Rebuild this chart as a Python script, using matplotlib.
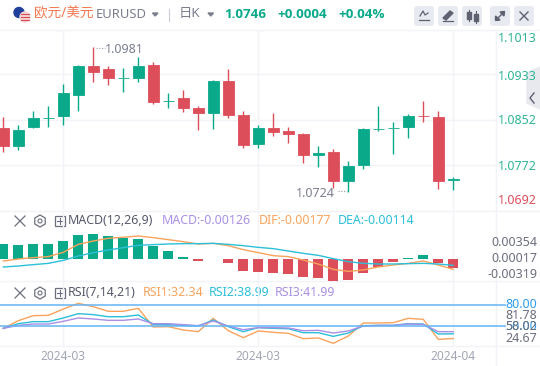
import matplotlib
matplotlib.use("Agg")
import numpy as np
import matplotlib.pyplot as plt
from matplotlib.patches import Circle, FancyBboxPatch, Polygon, Rectangle, RegularPolygon

plt.rcParams['font.family'] = ['Noto Sans', 'Noto Sans CJK SC', 'DejaVu Sans']

# Daily candles
opens = [1.08374, 1.08053, 1.08391, 1.0856, 1.08587, 1.08961, 1.09477, 1.09424, 1.09258, 1.09264, 1.09495,
         1.08863, 1.08908, 1.0873, 1.08641, 1.0921, 1.08605, 1.08089, 1.08374, 1.0832, 1.08267,
         1.07893, 1.07946, 1.0743, 1.07715, 1.08361, 1.08365, 1.08391, 1.0859, 1.08569, 1.0745]
closes = [1.08053, 1.08338, 1.08552, 1.0856, 1.08997, 1.09477, 1.0937, 1.09264, 1.09258, 1.09477, 1.08842,
          1.08863, 1.0873, 1.08641, 1.0921, 1.08605, 1.08071, 1.08374, 1.08302, 1.08267, 1.07893,
          1.07929, 1.0743, 1.07697, 1.08356, 1.08361, 1.08365, 1.08587, 1.08585, 1.0743, 1.0746]
highs = [1.08569, 1.08427, 1.08676, 1.08765, 1.09157, 1.09495, 1.0981, 1.09477, 1.09442, 1.09637, 1.09548,
         1.08997, 1.0905, 1.08765, 1.09228, 1.09424, 1.08676, 1.08427, 1.08641, 1.08391, 1.08285,
         1.08053, 1.08, 1.07786, 1.08374, 1.08765, 1.0848, 1.08614, 1.08854, 1.08676, 1.07501]
lows = [1.07946, 1.07982, 1.08374, 1.08391, 1.08427, 1.08676, 1.09192, 1.09139, 1.09014, 1.09192, 1.08801,
        1.0873, 1.08658, 1.08338, 1.08356, 1.08552, 1.08018, 1.08018, 1.08231, 1.08107, 1.07751,
        1.07679, 1.07306, 1.0724, 1.07644, 1.0832, 1.07911, 1.08196, 1.0848, 1.07288, 1.0727]

# MACD panel
macd_hist = [.0021, .00196, .0021, .0021, .00252, .00336, .0035, .00322, .00294, .0028, .00182,
             .00112, .00028, -.00028, .00006, -.00056, -.00168, -.00182, -.00196, -.0021, -.00252,
             -.00266, -.00308, -.00294, -.00196, -.00112, -.00042, .00012, .00056, -.00056, -.00126]
dif = [-.00028, 0, .00019, .00033, .00093, .00205, .00252, .0029, .00304, .00322, .00299,
       .00271, .00243, .0021, .00219, .00187, .00131, .00089, .00047, .00033, -.00014,
       -.0007, -.00145, -.00173, -.00154, -.00112, -.00084, -.00061, -.00028, -.00084, -.00145]
dea = [-.00112, -.00098, -.00079, -.00061, -.00019, .00042, .00089, .00126, .00159, .00191, .00201,
       .0021, .00215, .00215, .00219, .00205, .00187, .00163, .00145, .00112, .00079,
       .00051, .00005, -.00037, -.00061, -.0007, -.0007, -.00065, -.00061, -.0007, -.00089]

# RSI panel
rsi1 = [46.7, 57.5, 64.6, 65.0, 73.9, 81.9, 77.2, 70.7, 70.7, 74.9, 48.6, 49.1, 44.4, 42.0, 60.8, 43.4,
        33.6, 43.0, 41.1, 39.7, 32.2, 33.1, 25.6, 35.9, 54.2, 54.2, 54.7, 60.8, 59.4, 31.2, 32.34]
rsi2 = [46.7, 53.3, 56.1, 56.1, 61.3, 67.4, 66.0, 63.1, 63.1, 65.5, 52.3, 51.9, 50.9, 50.0, 58.5, 49.1,
        42.0, 47.7, 46.7, 46.2, 40.6, 40.6, 35.4, 40.1, 50.5, 50.9, 50.9, 53.3, 52.8, 38.7, 38.99]
rsi3 = [46.7, 50.9, 52.8, 52.8, 56.6, 61.3, 59.9, 58.0, 58.0, 59.9, 53.3, 53.3, 51.9, 50.5, 57.0, 50.0,
        44.8, 47.7, 47.7, 47.2, 43.4, 43.9, 40.1, 43.0, 50.0, 50.9, 50.9, 52.8, 52.3, 42.0, 41.99]
rsi_levels = [80, 50]

price_ticks = [1.0933, 1.0852, 1.0772]
price_labels = ['1.1013', '1.0933', '1.0852', '1.0772', '1.0692']
macd_labels = ['0.00354', '0.00017', '-0.00319']
rsi_labels = ['80.00', '81.78', '50.00', '58.02', '24.67']
date_ticks = [4, 17, 30]
date_labels = ['2024-03', '2024-03', '2024-04']

GREEN = '#0aa98a'
RED = '#dd4e5b'
ORANGE = '#f9a35c'
CYAN = '#2bbfd9'
PURPLE = '#a98fe6'
BLUE = '#62b4f4'
GRID = '#f2f3f8'
GRAY = '#7b7e8e'
W, H = 540, 366


def panel(top, bottom):
    ax = fig.add_axes([0, 1 - bottom / H, 496 / W, (bottom - top) / H])
    ax.patch.set_alpha(0)
    for s in ax.spines.values():
        s.set_visible(False)
    ax.set_xlim(-0.22, 32.85)
    ax.set_xticks(date_ticks)
    ax.tick_params(length=0, labelbottom=False, labelleft=False)
    ax.set_yticks([])
    ax.grid(axis='x', color=GRID, lw=1)
    ax.set_axisbelow(True)
    return ax


fig = plt.figure(figsize=(5.4, 3.66), dpi=100, facecolor='white')

# pixel canvas for the chrome: header, icons, clamped axis labels
ui = fig.add_axes([0, 0, 1, 1])
ui.set_xlim(0, W)
ui.set_ylim(H, 0)
ui.axis('off')

x = np.arange(len(opens))
o, c, h, l = map(np.array, (opens, closes, highs, lows))
colors = [GREEN if up else RED for up in c >= o]

ax1 = panel(30, 210)
ax1.set_ylim(1.06914, 1.10118)
ax1.set_yticks(price_ticks)
ax1.grid(axis='y', color=GRID, lw=1)
ax1.vlines(x, l, h, colors=colors, lw=1.0)
ax1.bar(x, np.abs(c - o), bottom=np.minimum(o, c), width=0.72, color=colors, edgecolor=colors, lw=0.6)
ax1.annotate('1.0981', (6, max(highs)), xytext=(12, 4), textcoords='offset pixels', va='top',
             color=GRAY, fontsize=9)
ax1.annotate('1.0724', (23, min(lows)), xytext=(-13, -2), textcoords='offset pixels', ha='right', va='center',
             color=GRAY, fontsize=9)
ax1.plot([6.2, 6.8], [max(highs) - 0.0001] * 2, color='#9a9dab', lw=0.8, ls=(0, (1, 1.5)))
ax1.plot([22.3, 22.9], [min(lows) + 0.0001] * 2, color='#9a9dab', lw=0.8, ls=(0, (1, 1.5)))

ax2 = panel(212, 282)
ax2.set_ylim(-0.00322, 0.00658)
ax2.bar(x, macd_hist, width=0.68, color=[GREEN if v >= 0 else RED for v in macd_hist])
ax2.plot(x, dif, color=ORANGE, lw=1.0)
ax2.plot(x, dea, color=CYAN, lw=1.0)

ax3 = panel(282, 346)
ax3.set_ylim(21.83, 112)
ax3.plot(x, rsi1, color=ORANGE, lw=1.0)
ax3.plot(x, rsi2, color=CYAN, lw=1.0)
ax3.plot(x, rsi3, color=PURPLE, lw=1.0)
ax3.hlines(rsi_levels, -0.22, 33.5, color=BLUE, lw=1.1, clip_on=False)
ax3.tick_params(labelbottom=True, labelsize=8.6, labelcolor='#a3a6b5', pad=3)
ax3.set_xticklabels(date_labels)

# panel frame lines
for y in [30, 211, 281, 346]:
    ui.plot([0, W], [y, y], color=GRID, lw=1)
ui.plot([496, 496], [30, 366], color=GRID, lw=1)

# header
ui.add_patch(Circle((19, 12.5), 5, color='#1f3f9a'))
ui.add_patch(Circle((25, 17), 5, color='#f4d5d5'))
for yy in [14, 17, 20]:
    ui.plot([21, 29], [yy, yy], color='#d94a55', lw=0.8)
ui.text(34, 14, '欧元/美元', color='#f47a52', fontsize=9.8, va='center')
ui.text(96, 15, 'EURUSD', color=GRAY, fontsize=9.4, va='center')
ui.add_patch(Polygon([[152.5, 13], [158, 13], [155.2, 16]], color=GRAY))
ui.plot([169, 169], [9, 21], color='#c9ccd6', lw=0.8)
ui.text(179, 14, '日K', color=GRAY, fontsize=9.6, va='center')
ui.add_patch(Polygon([[208, 13], [213.5, 13], [210.8, 16]], color=GRAY))
ui.text(224, 14, '1.0746', color=GREEN, fontsize=9.6, fontweight='bold', family='Open Sans', va='center')
ui.text(277, 14, '+0.0004', color=GREEN, fontsize=9.6, fontweight='bold', family='Open Sans', va='center')
ui.text(338, 14, '+0.04%', color=GREEN, fontsize=9.6, fontweight='bold', family='Open Sans', va='center')

# toolbar buttons
for bx in [414, 438, 462, 490, 514]:
    ui.add_patch(FancyBboxPatch((bx + 2, 8), 16, 16, boxstyle='round,pad=2,rounding_size=3', fc='#e8eaf1', ec='none'))
ui.plot([420, 423, 425, 428], [16, 11, 15, 13], color='#5e6170', lw=0.9)
ui.plot([419, 429], [20, 20], color='#5e6170', lw=0.9)
ui.add_patch(Polygon([[443, 18], [450, 11], [453, 13], [446, 20]], color='#5e6170'))
ui.plot([443, 453], [21, 21], color='#5e6170', lw=0.9)
ui.add_patch(Rectangle((467, 12), 3.5, 7, color='#5e6170'))
ui.add_patch(Rectangle((474, 14), 3.5, 7, color='#5e6170'))
ui.plot([468.7, 468.7], [10, 21], color='#5e6170', lw=0.8)
ui.plot([475.7, 475.7], [11, 23], color='#5e6170', lw=0.8)
ui.plot([496, 504], [20, 12], color='#5e6170', lw=1.0)
ui.add_patch(Polygon([[500, 12], [504.5, 11.5], [504, 16]], color='#5e6170'))
ui.add_patch(Polygon([[495.5, 16], [495.5, 20.5], [500, 20]], color='#5e6170'))
ui.plot([520, 528], [12, 20], color='#5e6170', lw=1.0)
ui.plot([520, 528], [20, 12], color='#5e6170', lw=1.0)

# side handle
ui.add_patch(Polygon([[527, 73], [540, 67], [540, 109], [527, 103]], color='#e8e9ef'))
ui.plot([534, 530, 534], [93, 98, 103], color='#5e6170', lw=1.0)

# right axis labels, clamped positions as in the original
for txt, yy in zip(price_labels, [38, 77, 121, 166, 200]):
    ui.text(537, yy, txt, color=RED if txt == '1.0692' else '#2fb596', fontsize=9, ha='right', va='center')
for txt, yy in zip(macd_labels, [243, 259, 274]):
    ui.text(537, yy, txt, color='#6c6f7d', fontsize=9, ha='right', va='center')
for txt, yy, col in zip(rsi_labels, [305, 315.5, 326, 326, 338], [BLUE, '#6c6f7d', BLUE, '#6c6f7d', '#6c6f7d']):
    ui.text(537, yy, txt, color='#2f9cf0' if col == BLUE else col, fontsize=9, ha='right', va='center')


def panel_icons(y):
    ui.plot([15, 25], [y - 5, y + 5], color='#6c6f7d', lw=0.9)
    ui.plot([15, 25], [y + 5, y - 5], color='#6c6f7d', lw=0.9)
    ui.add_patch(RegularPolygon((40, y), 6, radius=6, fc='none', ec='#6c6f7d', lw=0.9))
    ui.add_patch(Circle((40, y), 2, fc='none', ec='#6c6f7d', lw=0.8))
    ui.add_patch(Rectangle((54.5, y - 5), 10, 10, fc='none', ec='#6c6f7d', lw=0.9))
    ui.plot([56.5, 62.5], [y, y], color='#6c6f7d', lw=0.8)
    ui.plot([59.5, 59.5], [y - 3, y + 3], color='#6c6f7d', lw=0.8)


panel_icons(221)
panel_icons(293)
ui.text(68, 221, 'MACD(12,26,9)', color='#55586a', fontsize=8.9, va='center')
ui.text(162, 221, 'MACD:-0.00126', color=PURPLE, fontsize=8.9, va='center')
ui.text(259, 221, 'DIF:-0.00177', color=ORANGE, fontsize=8.9, va='center')
ui.text(338, 221, 'DEA:-0.00114', color=CYAN, fontsize=8.9, va='center')
ui.text(68, 293, 'RSI(7,14,21)', color='#55586a', fontsize=8.9, va='center')
ui.text(143, 293, 'RSI1:32.34', color=ORANGE, fontsize=8.9, va='center')
ui.text(209, 293, 'RSI2:38.99', color=CYAN, fontsize=8.9, va='center')
ui.text(275, 293, 'RSI3:41.99', color=PURPLE, fontsize=8.9, va='center')

fig.savefig('out.png', dpi=100)
